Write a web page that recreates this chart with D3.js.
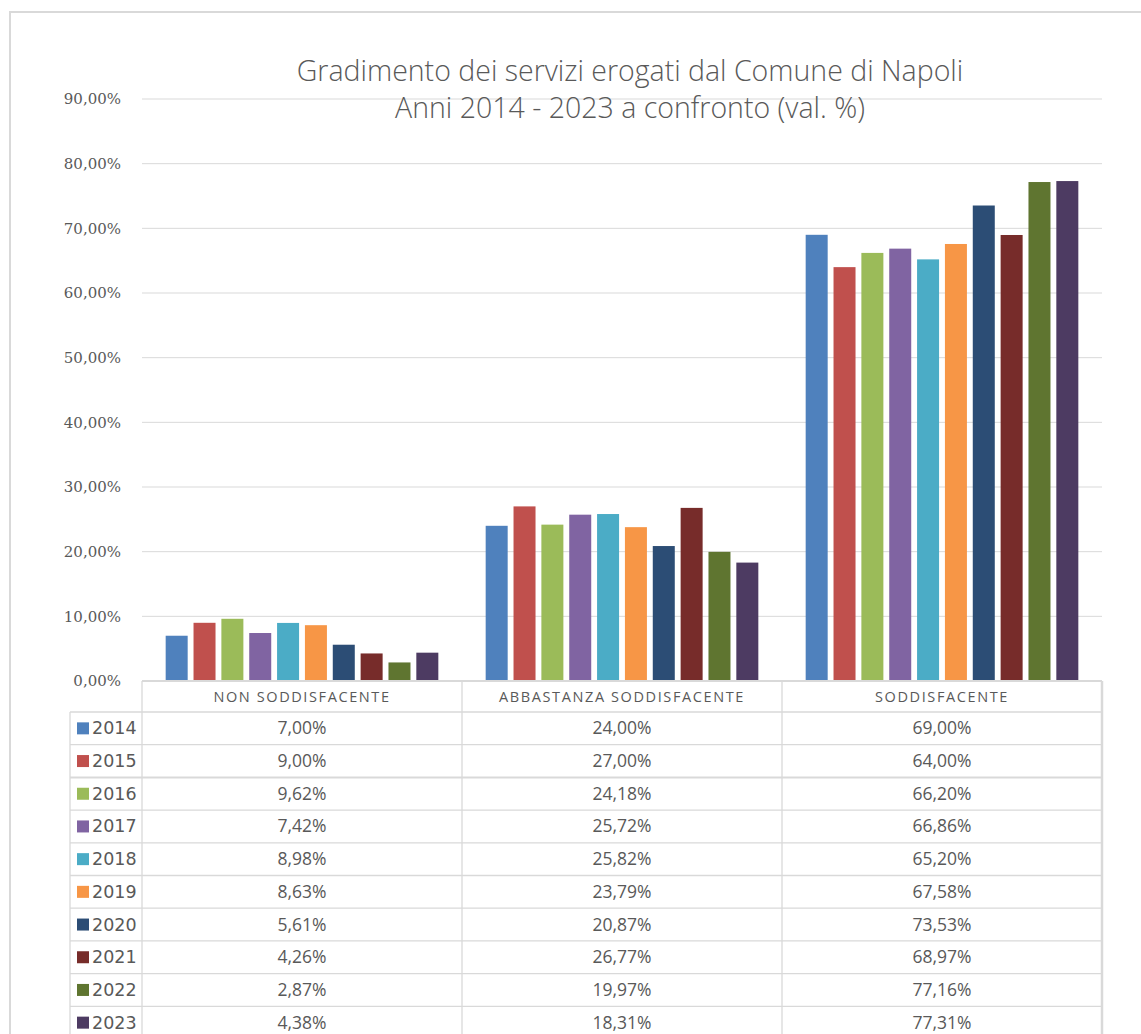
<!DOCTYPE html>
<meta charset="utf-8">
<title>Gradimento servizi Comune di Napoli</title>
<style>
body{ margin:0; background:white; }
text{ fill:#595959; }
</style>
<body>
<script src="https://d3js.org/d3.v7.min.js"></script>
<script>

var categories = ['NON SODDISFACENTE', 'ABBASTANZA SODDISFACENTE', 'SODDISFACENTE'];
var years = ['2014', '2015', '2016', '2017', '2018', '2019', '2020', '2021', '2022', '2023'];
var nonSodd = [7.00, 9.00, 9.62, 7.42, 8.98, 8.63, 5.61, 4.26, 2.87, 4.38];
var abbastanza = [24.00, 27.00, 24.18, 25.72, 25.82, 23.79, 20.87, 26.77, 19.97, 18.31];
var sodd = [69.00, 64.00, 66.20, 66.86, 65.20, 67.58, 73.53, 68.97, 77.16, 77.31];
var colors = ['#4F81BD', '#C0504D', '#9BBB59', '#8064A2', '#4BACC6', '#F79646', '#2C4D75', '#772C2A', '#5F7530', '#4D3B62'];
var yTicks = [0, 10, 20, 30, 40, 50, 60, 70, 80, 90];

var width = 1141, height = 1034;
var plotLeft = 142, plotRight = 1102, plotTop = 99, plotBottom = 681;
var headerH = 31, rowH = 32.7, legendLeft = 70;

var series = [nonSodd, abbastanza, sodd];

function fmt(v){ return v.toFixed(2).replace('.', ',') + '%'; }

var svg = d3.select('body').append('svg')
	.attr('width', width)
	.attr('height', height);

// chart border
svg.append('rect')
	.attr('x', 10).attr('y', 12)
	.attr('width', 1200).attr('height', 1100)
	.attr('fill', 'none')
	.attr('stroke', '#d9d9d9')
	.attr('stroke-width', 2);

var y = d3.scaleLinear().domain([0, 90]).range([plotBottom, plotTop]);
var x0 = d3.scaleBand().domain(categories).range([plotLeft, plotRight]);
var x1 = d3.scaleBand().domain(years).range([0, x0.bandwidth()]).paddingInner(0.21).paddingOuter(0.85);

// gridlines
svg.append('g')
	.selectAll('line')
	.data(yTicks.slice(1))
	.enter().append('line')
	.attr('x1', plotLeft).attr('x2', plotRight)
	.attr('y1', function(d){ return y(d); })
	.attr('y2', function(d){ return y(d); })
	.attr('stroke', '#d9d9d9')
	.attr('stroke-width', 1);

// y axis labels
var yAxis = svg.append('g')
	.attr('transform', 'translate(' + (plotLeft - 18) + ',0)')
	.call(d3.axisLeft(y).tickValues(yTicks).tickSize(0).tickFormat(fmt));
yAxis.select('.domain').remove();
yAxis.selectAll('text')
	.attr('font-family', 'DejaVu Serif, serif')
	.attr('font-size', 15)
	.attr('dx', 0)
	.style('fill', '#595959');

// title, two lines
var titleLines = ['Gradimento dei servizi erogati dal Comune di Napoli', 'Anni 2014 - 2023 a confronto (val. %)'];
svg.append('g')
	.selectAll('text')
	.data(titleLines)
	.enter().append('text')
	.attr('x', 630)
	.attr('y', function(d, i){ return 81 + i * 37; })
	.attr('text-anchor', 'middle')
	.attr('font-family', 'Open Sans, sans-serif')
	.attr('font-weight', 300)
	.attr('font-size', 28.5)
	.text(function(d){ return d; });

// bars
var groups = svg.append('g')
	.selectAll('g')
	.data(categories)
	.enter().append('g')
	.attr('transform', function(d){ return 'translate(' + x0(d) + ',0)'; });

groups.selectAll('rect')
	.data(function(d, i){ return years.map(function(yr, j){ return {year: yr, value: series[i][j], c: colors[j]}; }); })
	.enter().append('rect')
	.attr('x', function(d){ return x1(d.year); })
	.attr('y', function(d){ return y(d.value); })
	.attr('width', x1.bandwidth())
	.attr('height', function(d){ return plotBottom - y(d.value); })
	.attr('fill', function(d){ return d.c; });

// data table
var table = svg.append('g');
var rowY = function(i){ return plotBottom + headerH + i * rowH; };
var tableBottom = rowY(years.length);

// horizontal lines
table.append('line')
	.attr('x1', plotLeft).attr('x2', plotRight)
	.attr('y1', plotBottom).attr('y2', plotBottom)
	.attr('stroke', '#d9d9d9').attr('stroke-width', 2);
table.selectAll('line.row')
	.data(d3.range(years.length + 1))
	.enter().append('line')
	.attr('class', 'row')
	.attr('x1', legendLeft).attr('x2', plotRight)
	.attr('y1', function(i){ return rowY(i); })
	.attr('y2', function(i){ return rowY(i); })
	.attr('stroke', '#d9d9d9')
	.attr('stroke-width', function(i){ return i === 2 ? 2 : 1.3; });

// vertical lines
table.append('line')
	.attr('x1', legendLeft).attr('x2', legendLeft)
	.attr('y1', rowY(0)).attr('y2', tableBottom)
	.attr('stroke', '#d9d9d9').attr('stroke-width', 1.3);
table.selectAll('line.col')
	.data(categories.concat(['end']))
	.enter().append('line')
	.attr('class', 'col')
	.attr('x1', function(d, i){ return i < categories.length ? x0(d) : plotRight; })
	.attr('x2', function(d, i){ return i < categories.length ? x0(d) : plotRight; })
	.attr('y1', plotBottom).attr('y2', tableBottom)
	.attr('stroke', '#d9d9d9')
	.attr('stroke-width', function(d, i){ return i === categories.length ? 2.5 : 1.3; });

// header texts
table.selectAll('text.head')
	.data(categories)
	.enter().append('text')
	.attr('class', 'head')
	.attr('x', function(d){ return x0(d) + x0.bandwidth() / 2; })
	.attr('y', plotBottom + 21)
	.attr('text-anchor', 'middle')
	.attr('font-family', 'Open Sans, sans-serif')
	.attr('font-size', 14.5)
	.attr('letter-spacing', 1.6)
	.text(function(d){ return d; });

// legend cells
var rows = table.selectAll('g.r')
	.data(years)
	.enter().append('g')
	.attr('class', 'r')
	.attr('transform', function(d, i){ return 'translate(0,' + rowY(i) + ')'; });

rows.append('rect')
	.attr('x', 77).attr('y', rowH / 2 - 6)
	.attr('width', 12).attr('height', 12)
	.attr('fill', function(d, i){ return colors[i]; });

rows.append('text')
	.attr('x', 92).attr('y', rowH / 2 + 6)
	.attr('font-family', 'DejaVu Sans, sans-serif')
	.attr('font-size', 17.5)
	.text(function(d){ return d; });

categories.forEach(function(cat, ci){
	rows.append('text')
		.attr('x', x0(cat) + x0.bandwidth() / 2)
		.attr('y', rowH / 2 + 6)
		.attr('text-anchor', 'middle')
		.attr('font-family', 'Open Sans, sans-serif')
		.attr('font-size', 17.5)
		.text(function(d, i){ return fmt(series[ci][i]); });
});

</script>
</body>
